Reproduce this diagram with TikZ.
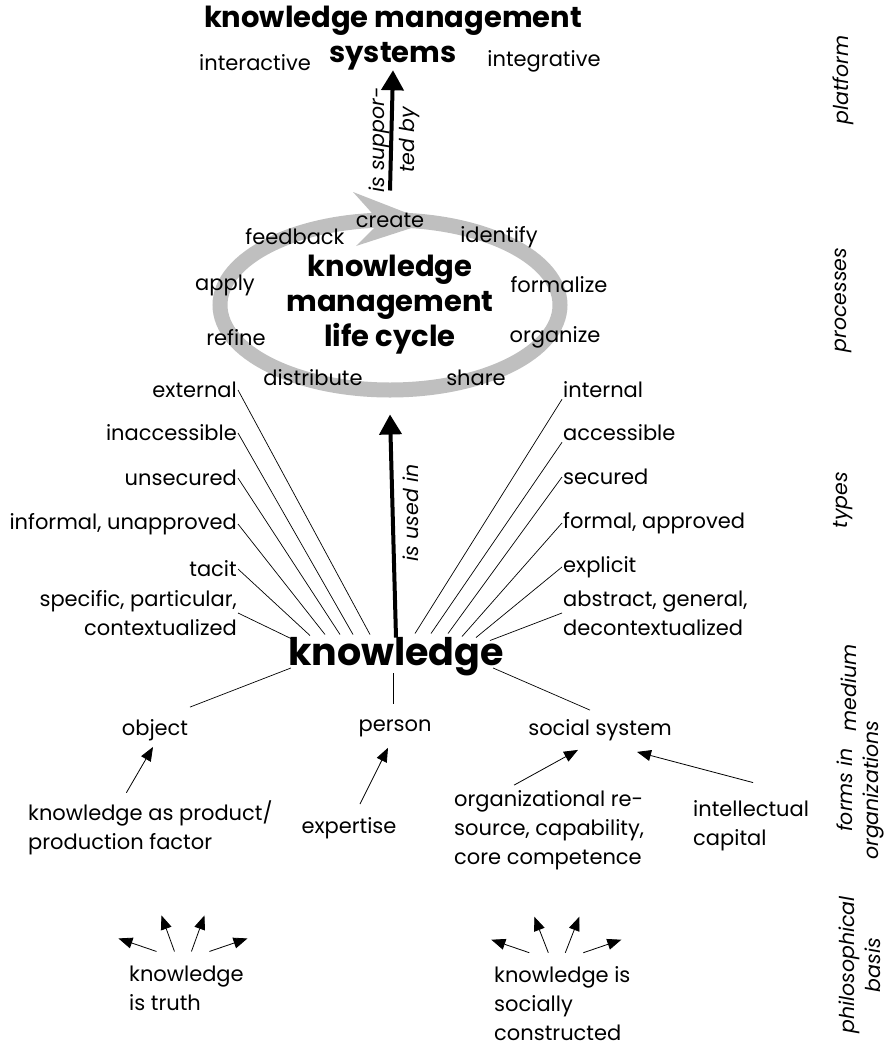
\documentclass[tikz,border=0pt]{standalone}
\usepackage{fontspec}
\setmainfont{Poppins}
\usetikzlibrary{arrows.meta,shapes,positioning,calc}

\begin{document}
\begin{tikzpicture}[x=1pt, y=-1pt,
    term/.style={font=\fontsize{21}{29}\selectfont, inner sep=1pt},
    leftterm/.style={term, anchor=east, align=right},
    rightterm/.style={term, anchor=west, align=left},
    aspect/.style={font=\fontsize{20.5}{26}\selectfont\itshape, rotate=90, align=center, inner sep=1pt},
    heading/.style={font=\fontsize{29}{35}\selectfont\bfseries, align=center, inner sep=0pt},
    lifecycle/.style={ellipse, draw=gray!50, line width=15pt, minimum width=340pt, minimum height=170pt, font=\fontsize{29}{35}\selectfont\bfseries, align=center},
    typeline/.style={line width=0.7pt},
    bigarrow/.style={line width=4pt, -{Triangle[length=20pt, width=22pt]}},
    smallarrow/.style={line width=0.8pt, -{Triangle[length=14pt, width=11pt]}}
]
\useasboundingbox (0,0) rectangle (893,1047);

% Platform
\node[heading] (kms) at (393,38) {knowledge management\\systems};
\node[term] (inter) at (255,63) {interactive};
\node[term] (integ) at (544,61) {integrative};

% Processes
\node[lifecycle] (klc) at (390,305) {knowledge\\management\\life cycle};
\fill[gray!50] (353,192) -- (430,222) -- (356,246) -- (380,222) -- cycle;
\node[term] (create) at (390,220) {create};
\node[term] (feedb) at (295,237) {feedback};
\node[term] (ident) at (499,237) {identify};
\node[term] (apply) at (225,285) {apply};
\node[term] (formz) at (559,285) {formalize};
\node[term] (refine) at (236,338) {refine};
\node[term] (organz) at (555,337) {organize};
\node[term] (distr) at (313,378) {distribute};
\node[term] (share) at (476,378) {share};

\draw[bigarrow] ([yshift=22pt]klc.north) -- (kms.south);
\node[aspect, font=\fontsize{20.5}{30}\selectfont\itshape] (supp) at (394,140) {is suppor-\\ted by};

% Knowledge and its types
\node[font=\fontsize{38}{40}\selectfont\bfseries, inner sep=0pt] (know) at (396,657) {knowledge};
\draw[bigarrow] (know.north) -- ([yshift=-17pt]klc.south);
\node[aspect] (used) at (411,513) {is used in};

\node[leftterm] (ext) at (238,390) {external};
\node[leftterm] (inacc) at (238,433) {inaccessible};
\node[leftterm] (unsec) at (238,478) {unsecured};
\node[leftterm] (inform) at (238,524) {informal, unapproved};
\node[leftterm] (tacit) at (238,569) {tacit};
\node[leftterm] (spec) at (238,613) {specific, particular,\\contextualized};

\node[rightterm] (intl) at (562,390) {internal};
\node[rightterm] (acc) at (562,433) {accessible};
\node[rightterm] (sec) at (562,477) {secured};
\node[rightterm] (formal) at (562,523) {formal, approved};
\node[rightterm] (expl) at (562,567) {explicit};
\node[rightterm] (abstr) at (562,613) {abstract, general,\\decontextualized};

\draw[typeline] (ext.east) -- ($(know.north)+(-26,-3)$);
\draw[typeline] (inacc.east) -- ($(know.north)+(-43,-3)$);
\draw[typeline] (unsec.east) -- ($(know.north)+(-56,-3)$);
\draw[typeline] (inform.east) -- ($(know.north)+(-71,-3)$);
\draw[typeline] (tacit.east) -- ($(know.north)+(-86,-2)$);
\draw[typeline] (spec.east) -- ($(know.north)+(-103,2)$);

\draw[typeline] (intl.south west) -- ($(know.north)+(19,-4)$);
\draw[typeline] (acc.south west) -- ($(know.north)+(35,-4)$);
\draw[typeline] (sec.west) -- ($(know.north)+(52,-4)$);
\draw[typeline] (formal.west) -- ($(know.north)+(66,-1)$);
\draw[typeline] (expl.west) -- ($(know.north)+(80,0)$);
\draw[typeline] (abstr.west) -- ($(know.north)+(94,3)$);

% Medium
\node[term] (obj) at (155,730) {object};
\node[term] (pers) at (395,728) {person};
\node[term] (social) at (600,730) {social system};

\draw[typeline] ($(know.west)+(3,11)$) -- ($(obj.north)+(35,-11)$);
\draw[typeline] ($(know.south)+(-3,-3)$) -- ($(pers.north)+(-2,-14)$);
\draw[typeline] ($(know.east)+(-11,11)$) -- ($(social.north)+(-10,-8)$);

% Forms in organizations
\node[rightterm] (prod) at (27,828) {knowledge as product/\\production factor};
\node[term] (expert) at (349,828) {expertise};
\node[rightterm] (orgres) at (453,830) {organizational re-\\source, capability,\\core competence};
\node[rightterm] (intcap) at (692,826) {intellectual\\capital};

\draw[smallarrow] ($(prod.north)+(-24,-7)$) -- ($(obj.south)+(-2,5)$);
\draw[smallarrow] ($(expert.north)+(11,-12)$) -- ($(pers.south)+(-7,10)$);
\draw[smallarrow] ($(orgres.north)+(-35,-4)$) -- ($(social.south)+(-22,8)$);
\draw[smallarrow] ($(intcap.north)+(2,-17)$) -- ($(social.south)+(37,10)$);

% Philosophical basis
\node[rightterm] (truth) at (128,988) {knowledge\\is truth};
\node[rightterm] (constr) at (493,1004) {knowledge is\\socially\\constructed};

\draw[smallarrow] ($(truth.north)+(-30,-13)$) -- ++(-38,-13);
\draw[smallarrow] ($(truth.north)+(-12,-13)$) -- ++(-13,-36);
\draw[smallarrow] ($(truth.north)+(5,-13)$) -- ++(13,-36);
\draw[smallarrow] ($(truth.north)+(23,-13)$) -- ++(38,-13);

\draw[smallarrow] ($(constr.north)+(-33,-13)$) -- ++(-38,-13);
\draw[smallarrow] ($(constr.north)+(-14,-13)$) -- ++(-14,-36);
\draw[smallarrow] ($(constr.north)+(3,-13)$) -- ++(14,-36);
\draw[smallarrow] ($(constr.north)+(21,-13)$) -- ++(38,-13);

% Aspects
\node[aspect] (platf) at (843,80) {platform};
\node[aspect] (procs) at (843,300) {processes};
\node[aspect] (types) at (843,500) {types};
\node[aspect] (medium) at (849,688) {medium};
\node[aspect] (forms) at (860,790) {forms \textit{in}\\organizations};
\node[aspect] (philo) at (860,965) {philosophical\\basis};

\end{tikzpicture}
\end{document}
